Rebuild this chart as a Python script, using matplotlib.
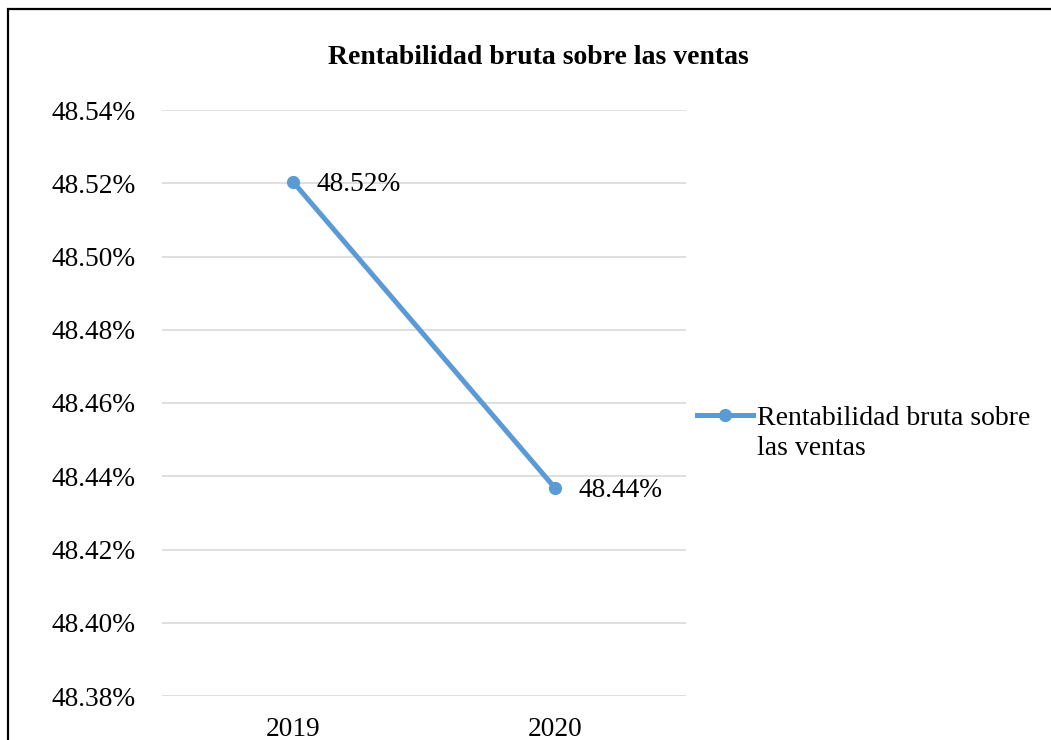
import matplotlib.pyplot as plt
from matplotlib.lines import Line2D
from matplotlib.patches import Rectangle
from matplotlib.ticker import MultipleLocator, FuncFormatter

# data (percent)
years = ["2019", "2020"]
rentabilidad = [48.5204, 48.4368]
serie_label = ["Rentabilidad bruta sobre", "las ventas"]
title = "Rentabilidad bruta sobre las ventas"

plt.rcParams["font.family"] = ["Liberation Serif", "DejaVu Serif"]

blue = "#5B9BD5"
grid_gray = "#D9D9D9"
W, H = 1051, 740

fig = plt.figure(figsize=(W / 100, H / 100), dpi=100)
ax = fig.add_axes([162 / W, 44 / H, 524 / W, 586 / H])

x = list(range(len(years)))
ax.plot(x, rentabilidad, color=blue, lw=3.6, marker="o", markersize=8.5,
        solid_capstyle="round", zorder=3)

# data labels
for xi, v in zip(x, rentabilidad):
    ax.annotate("{:.2f}%".format(v), (xi, v), xytext=(17, -2),
                textcoords="offset points", ha="left", va="center",
                fontsize=19.7, color="black")

ax.set_xlim(-0.5, 1.5)
ax.set_ylim(48.38, 48.54)
ax.yaxis.set_major_locator(MultipleLocator(0.02))
ax.yaxis.set_major_formatter(FuncFormatter(lambda v, p: "{:.2f}%".format(v)))
ax.set_xticks(x)
ax.set_xticklabels(years)
ax.tick_params(axis="both", length=0, labelsize=19.7, colors="black")
ax.tick_params(axis="y", pad=19)
ax.tick_params(axis="x", pad=15)

ax.grid(axis="y", color=grid_gray, lw=1.2)
ax.set_axisbelow(True)
for s in ax.spines.values():
    s.set_visible(False)

fig.text(538 / W, 1 - 58 / H, title, ha="center", va="center",
         fontsize=20, fontweight="bold")

# legend (label wraps onto two lines, marker level with the first line)
fig.add_artist(Line2D([697 / W, 753 / W], [1 - 415 / H, 1 - 415 / H],
                      transform=fig.transFigure, color=blue, lw=3.6))
fig.add_artist(Line2D([725 / W], [1 - 415 / H], transform=fig.transFigure,
                      color=blue, marker="o", markersize=8.5))
fig.text(757 / W, 1 - 425 / H, serie_label[0], ha="left", va="baseline",
         fontsize=20)
fig.text(757 / W, 1 - 455 / H, serie_label[1], ha="left", va="baseline",
         fontsize=20)

# chart border (only top and left are inside the picture)
fig.add_artist(Rectangle((7.5 / W, -0.2), 1.2, 1.2 - 8.5 / H,
                         transform=fig.transFigure, fill=False,
                         edgecolor="black", lw=1.6))

fig.savefig("out.png", dpi=100)
